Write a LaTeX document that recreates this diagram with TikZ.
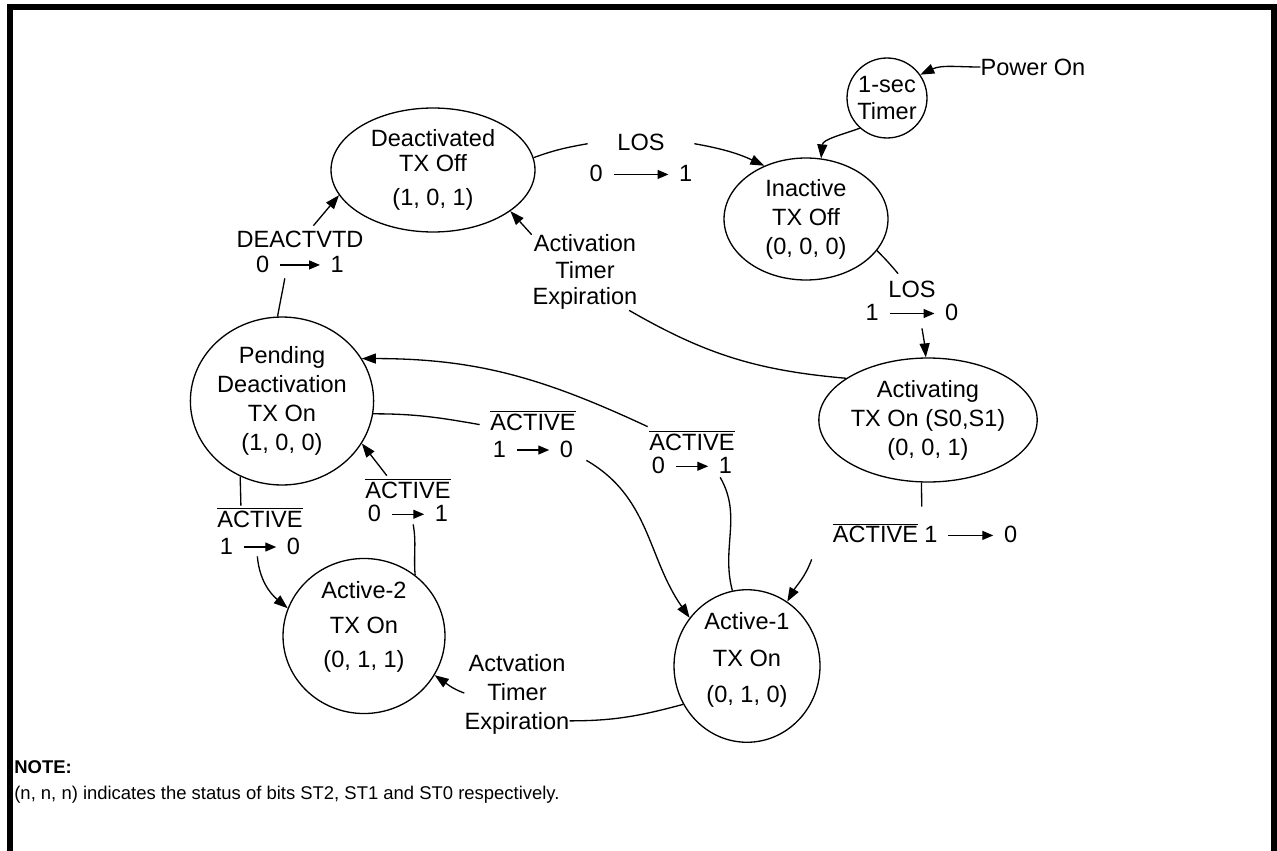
\documentclass[tikz,border=0pt]{standalone}
\usepackage{fontspec}
\setmainfont{Liberation Sans}
\usetikzlibrary{shapes.geometric,arrows.meta}

\newcommand{\lab}{\fontsize{13.4}{16.5}\selectfont}
\newcommand{\notefont}{\fontsize{10.5}{12.5}\selectfont}
\newcommand{\bitto}[1]{\hspace{2pt}\tikz[baseline=-0.6ex]\draw[line width=0.75pt,-{Triangle[length=2.2mm,width=1.8mm]}] (0,0)--(#1,0);\hspace{2pt}}
\newcommand{\nact}{$\overline{\mbox{ACTIVE}}$}

\tikzset{
  state/.style={draw, ellipse, line width=0.75pt, inner sep=0pt, align=center, font=\lab},
  lbl/.style={inner sep=0pt, align=center, font=\lab},
  trans/.style={line width=0.75pt},
  tip/.style={-{Triangle[length=2.8mm,width=2mm]}},
}

\begin{document}
\begin{tikzpicture}[x=0.02cm, y=0.02cm]
  \useasboundingbox (0,0) rectangle (1277,-851);
  \draw[line width=3.4pt] (10,-851) -- (10,-7) -- (1273.5,-7) -- (1273.5,-851); % frame

  % states
  \node[state, minimum width=4.08cm, minimum height=2.48cm] (deact) at (433,-170) {Deactivated\\[-2pt]TX Off\\[3pt](1, 0, 1)};
  \node[state, circle, minimum size=1.6cm] (timer) at (887,-98) {1-sec\\[-1pt]Timer};
  \node[state, minimum width=3.28cm, minimum height=2.44cm] (inact) at (806,-219) {Inactive\\TX Off\\(0, 0, 0)};
  \node[state, minimum width=4.12cm, minimum height=2.48cm] (activ) at (928,-420) {Activating\\TX On (S0,S1)\\(0, 0, 1)};
  \node[state, minimum width=3.6cm, minimum height=3.36cm] (pend) at (282,-401) {Pending\\Deactivation\\TX On\\(1, 0, 0)};
  \node[state, minimum width=3.24cm, minimum height=2.76cm, text depth=0.46cm] (act2) at (364,-636) {Active-2\\[3.3pt]TX On\\[3.3pt](0, 1, 1)};
  \node[state, minimum width=2.92cm, minimum height=2.96cm, text depth=0.34cm] (act1) at (747,-666) {Active-1\\[4.5pt]TX On\\[4.5pt](0, 1, 0)};

  % transition labels
  \node[lbl] (power) at (1033,-67) {Power On};
  \node[lbl, minimum width=2.12cm, minimum height=1.2cm] (l1) at (641,-158) {LOS\\[1.5pt]0 \bitto{1.1cm} 1};
  \node[lbl, minimum width=1.8cm, minimum height=1.08cm] (l2) at (912,-301) {LOS\\[-3pt]1 \bitto{0.9cm} 0};
  \node[lbl, minimum width=2.12cm, minimum height=1.52cm] (l3) at (585,-272) {Activation\\[-1.5pt]Timer\\[-1.5pt]Expiration};
  \node[lbl, minimum width=2.6cm, minimum height=1.04cm] (l4) at (300,-252) {DEACTVTD\\[-2.5pt]0 \bitto{0.8cm} 1};
  \node[lbl, minimum width=4.52cm, minimum height=1.04cm] (l5) at (925,-533) {\nact\ 1 \bitto{0.9cm} 0};
  \node[lbl, minimum width=2.12cm, minimum height=1.04cm] (l6) at (533,-434) {\nact\\[-1pt]1 \bitto{0.65cm} 0};
  \node[lbl, minimum width=1.76cm, minimum height=1cm] (l7) at (692,-452) {\nact\\[-3pt]0 \bitto{0.65cm} 1};
  \node[lbl, minimum width=1.76cm, minimum height=1cm] (l8) at (260,-531) {\nact\\[-1pt]1 \bitto{0.65cm} 0};
  \node[lbl, minimum width=1.76cm, minimum height=0.96cm] (l9) at (408,-500) {\nact\\[-3pt]0 \bitto{0.65cm} 1};
  \node[lbl, minimum width=1.8cm, minimum height=1.6cm] (l10) at (517,-694) {Actvation\\Timer\\Expiration};

  % transitions
  \draw[trans,tip] (power.west) to[out=180, in=25] (timer.35);
  \draw[trans,tip] (timer.228) to[out=200, in=85] (inact.76);
  \draw[trans] (deact.7) to[out=20, in=190] (l1.165);
  \draw[trans,tip] (l1.15) to[out=-10, in=155] (inact.128);
  \draw[trans] (inact.-24) to[out=-45, in=130] (l2.117);
  \draw[trans,tip] (l2.-70) to[out=-80, in=95] (activ.92);
  \draw[trans] (activ.153) to[out=175, in=-30] (l3.-41);
  \draw[trans,tip] (l3.145) -- (deact.-28);
  \draw[trans] (pend.93) to[out=80, in=-100] (l4.-120);
  \draw[trans,tip] (l4.63) -- (deact.195);
  \draw[trans] (activ.-96) -- (l5.97);
  \draw[trans,tip] (l5.south west) to[out=-110, in=60] (act1.58);
  \draw[trans] (pend.-8) to[out=0, in=170] (l6.170);
  \draw[trans,tip] (l6.south east) to[out=-30, in=125] (act1.140);
  \draw[trans] (act1.101) to[out=105, in=-60] (l7.-42);
  \draw[trans,tip] (l7.north west) to[out=155, in=0] (pend.28);
  \draw[trans] (pend.-119) -- (l8.127);
  \draw[trans,tip] (l8.-96) to[out=-85, in=140] (act2.160);
  \draw[trans] (act2.50) to[out=95, in=-80] (l9.-78);
  \draw[trans,tip] (l9.131) -- (pend.-28);
  \draw[trans] (act1.211) to[out=195, in=0] (l10.-27);
  \draw[trans,tip] (l10.179) to[out=160, in=-35] (act2.-29);

  % note
  \node[anchor=west, inner sep=0pt, font=\notefont\bfseries] (notehd) at (14,-767) {NOTE:};
  \node[anchor=west, inner sep=0pt, font=\notefont] (notetx) at (14,-795) {(n, n, n) indicates the status of bits ST2, ST1 and ST0 respectively.};
\end{tikzpicture}
\end{document}
